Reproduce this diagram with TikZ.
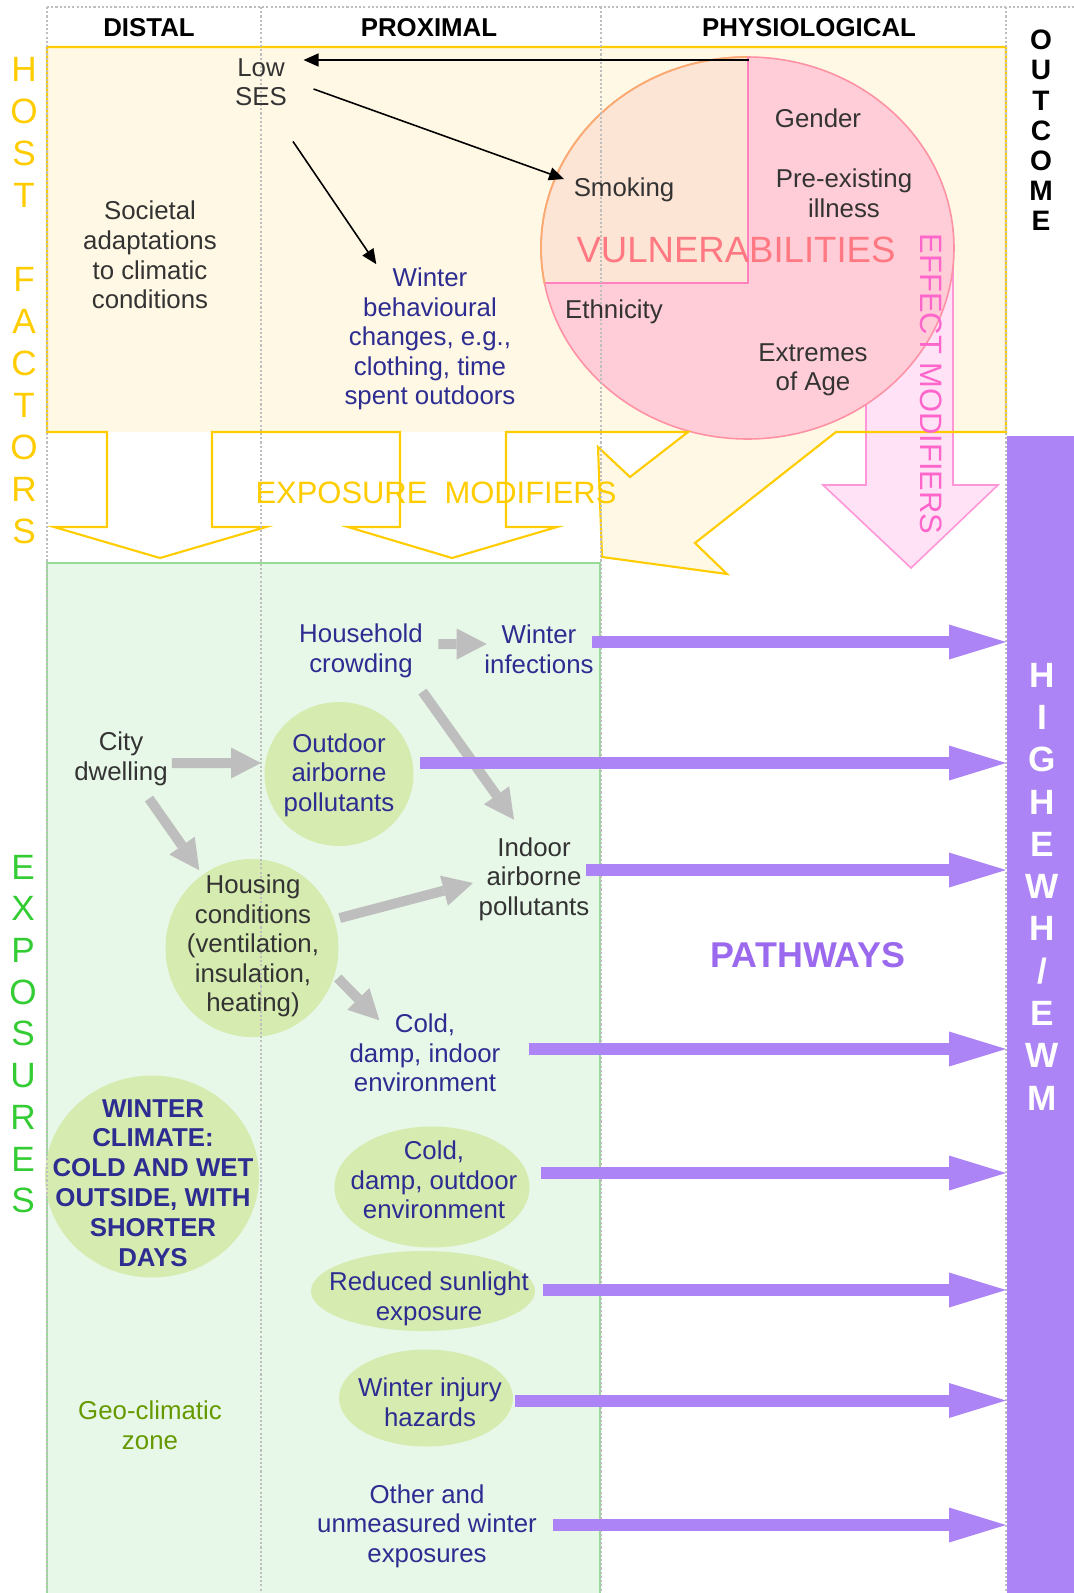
\documentclass[tikz,border=0pt]{standalone}
\usepackage{fontspec}
\setmainfont{Liberation Sans}
\usetikzlibrary{arrows.meta}

\definecolor{hostyellow}{RGB}{255,204,0}
\definecolor{hostcream}{RGB}{255,248,228}
\definecolor{expgreen}{RGB}{51,204,51}
\definecolor{expfill}{RGB}{232,248,232}
\definecolor{expline}{RGB}{150,220,150}
\definecolor{ovalgreen}{RGB}{214,235,176}
\definecolor{txtgrey}{RGB}{51,51,51}
\definecolor{txtblue}{RGB}{45,45,145}
\definecolor{geogreen}{RGB}{102,153,0}
\definecolor{vulpink}{RGB}{255,205,215}
\definecolor{vulpeach}{RGB}{253,229,214}
\definecolor{vulorange}{RGB}{250,172,110}
\definecolor{vulrim}{RGB}{255,145,165}
\definecolor{vulline}{RGB}{255,130,190}
\definecolor{vultext}{RGB}{255,120,130}
\definecolor{effill}{RGB}{255,226,246}
\definecolor{efline}{RGB}{255,150,215}
\definecolor{eftext}{RGB}{255,102,204}
\definecolor{pathpurple}{RGB}{172,132,245}
\definecolor{pathtext}{RGB}{155,105,238}
\definecolor{gridgrey}{RGB}{190,190,190}
\definecolor{arrowgrey}{RGB}{190,190,190}

\begin{document}
\begin{tikzpicture}[
    % Styles
    txt/.style={align=center, inner sep=0pt, text=txtgrey,
      font=\fontsize{7.35}{8.4}\selectfont},
    bluetxt/.style={txt, text=txtblue},
    header/.style={inner sep=0pt, font=\bfseries\fontsize{7.35}{8.4}\selectfont},
    hostletter/.style={inner sep=0pt, text=hostyellow, font=\fontsize{10}{12}\selectfont},
    expoletter/.style={hostletter, text=expgreen},
    outcletter/.style={inner sep=0pt, font=\bfseries\fontsize{8}{9.6}\selectfont},
    ewmletter/.style={inner sep=0pt, text=white, font=\bfseries\fontsize{10}{12}\selectfont},
    oval/.style={fill=ovalgreen},
    gridline/.style={draw=gridgrey, line width=0.3pt, dash pattern=on 0.6pt off 0.6pt},
    greyarrow/.style={draw=arrowgrey, line width=0.10cm,
      -{Triangle[length=0.30cm, width=0.31cm, line width=0pt]}},
    patharrow/.style={draw=pathpurple, line width=0.12cm,
      -{Triangle[length=0.57cm, width=0.35cm, line width=0pt]}},
    blkarrow/.style={draw=black, line width=0.45pt,
      -{Triangle[length=0.15cm, width=0.13cm]}},
  ]
  \useasboundingbox (0,0) rectangle (10.74,-15.93);

  % host factors box and exposure modifier arrows
  \fill[hostcream] (0.47,-0.47) rectangle (10.06,-4.32);
  \fill[hostcream] (8.36,-4.32) -- (6.95,-5.43) -- (7.27,-5.74) -- (6.02,-5.57)
    -- (5.98,-4.47) -- (6.30,-4.77) -- (6.88,-4.32) -- cycle;

  % exposures box
  \fill[expfill] (0.47,-5.63) rectangle (6.00,-15.93);
  \draw[expline, line width=0.45pt] (0.47,-15.93) -- (0.47,-5.63) -- (6.00,-5.63) -- (6.00,-15.93);

  % effect modifiers arrow
  \filldraw[fill=effill, draw=efline, line width=0.45pt] (8.66,-2.45) -- (9.53,-2.45) -- (9.53,-4.85)
    -- (9.98,-4.85) -- (9.11,-5.68) -- (8.23,-4.85) -- (8.66,-4.85) -- cycle;

  % vulnerabilities
  \fill[vulpink] (7.475,-2.48) ellipse (2.065 and 1.91);
  \begin{scope}
    \clip (7.475,-2.48) ellipse (2.065 and 1.91);
    \fill[vulpeach] (5.30,-0.50) rectangle (7.48,-2.83);
  \end{scope}
  \draw[vulrim, line width=0.45pt] (7.475,-2.48) ellipse (2.065 and 1.91);
  \begin{scope}
    \clip (5.30,-0.50) rectangle (7.48,-2.83);
    \draw[vulorange, line width=0.5pt] (7.475,-2.48) ellipse (2.065 and 1.91);
  \end{scope}
  \draw[vulline, line width=0.45pt] (7.48,-0.57) -- (7.48,-2.83) -- (5.445,-2.83);

  % host factors outline
  \draw[hostyellow, line width=0.6pt] (0.47,-0.47) -- (10.06,-0.47) -- (10.06,-4.32)
    -- (8.36,-4.32) -- (6.95,-5.43) -- (7.27,-5.74) -- (6.02,-5.57) -- (5.98,-4.47)
    -- (6.30,-4.77) -- (6.88,-4.32) -- (5.06,-4.32) -- (5.06,-5.27) -- (5.57,-5.27)
    -- (4.52,-5.58) -- (3.48,-5.27) -- (4.00,-5.27) -- (4.00,-4.32) -- (2.12,-4.32)
    -- (2.12,-5.27) -- (2.66,-5.27) -- (1.60,-5.58) -- (0.54,-5.27) -- (1.07,-5.27)
    -- (1.07,-4.32) -- (0.47,-4.32) -- cycle;

  % outcome bar
  \node[fill=pathpurple, inner sep=0pt, minimum width=0.68cm, minimum height=11.58cm,
    anchor=north west] (outbar) at (10.06,-4.35) {};

  % green ovals
  \fill[oval] (3.39,-7.74) ellipse (0.745 and 0.72);
  \fill[oval] (2.52,-9.48) ellipse (0.865 and 0.89);
  \fill[oval] (1.52,-11.765) ellipse (1.07 and 1.01);
  \fill[oval] (4.32,-11.87) ellipse (0.975 and 0.605);
  \fill[oval] (4.23,-12.91) ellipse (1.12 and 0.40);
  \fill[oval] (4.26,-13.98) ellipse (0.87 and 0.485);

  % grid
  \draw[gridline] (0.47,-0.07) -- (10.74,-0.07);
  \foreach \x in {0.47,2.61,6.01,10.06}
    \draw[gridline] (\x,-0.07) -- (\x,-15.93);

  % headers
  \node[header] (distal) at (1.49,-0.28) {DISTAL};
  \node[header] (proximal) at (4.29,-0.28) {PROXIMAL};
  \node[header] (physio) at (8.09,-0.28) {PHYSIOLOGICAL};

  % host factors
  \node[txt] (lowses) at (2.61,-0.82) {Low\\SES};
  \node[txt] (societal) at (1.50,-2.55) {Societal\\adaptations\\to climatic\\conditions};
  \node[bluetxt] (behaviour) at (4.30,-3.39) {Winter\\behavioural\\changes, e.g.,\\clothing, time\\spent outdoors};
  \node[txt] (smoking) at (6.24,-1.90) {Smoking};
  \node[txt] (gender) at (8.18,-1.18) {Gender};
  \node[txt] (preexist) at (8.44,-1.93) {Pre-existing\\illness};
  \node[txt] (ethnic) at (6.14,-3.12) {Ethnicity};
  \node[txt] (ageext) at (8.13,-3.70) {Extremes\\of Age};
  \node[inner sep=0pt, text=vultext, font=\fontsize{10.4}{12}\selectfont] (vuln) at (7.36,-2.50) {VULNERABILITIES};
  \node[rotate=-90, inner sep=0pt, text=eftext, font=\fontsize{8.8}{10}\selectfont] (effmod) at (9.31,-3.84) {EFFECT MODIFIERS};
  \node[inner sep=0pt, text=hostyellow, font=\fontsize{8.8}{10}\selectfont] (expmod) at (4.36,-4.93) {EXPOSURE\ \ MODIFIERS};

  % exposures
  \node[bluetxt] (crowding) at (3.61,-6.51) {Household\\crowding};
  \node[bluetxt] (infect) at (5.39,-6.49) {Winter\\infections};
  \node[txt] (city) at (1.21,-7.59) {City\\dwelling};
  \node[bluetxt] (outdoor) at (3.39,-7.75) {Outdoor\\airborne\\pollutants};
  \node[txt] (indoor) at (5.34,-8.79) {Indoor\\airborne\\pollutants};
  \node[txt] (housing) at (2.53,-9.46) {Housing\\conditions\\(ventilation,\\insulation,\\heating)};
  \node[bluetxt] (colddampin) at (4.25,-10.53) {Cold,\\damp, indoor\\environment};
  \node[bluetxt, font=\bfseries\fontsize{7.35}{8.5}\selectfont] (climate) at (1.53,-11.83) {WINTER\\CLIMATE:\\COLD AND WET\\OUTSIDE, WITH\\SHORTER\\DAYS};
  \node[bluetxt] (colddampout) at (4.34,-11.80) {Cold,\\damp, outdoor\\environment};
  \node[bluetxt] (sunlight) at (4.29,-12.99) {Reduced sunlight\\exposure};
  \node[bluetxt] (injury) at (4.30,-14.02) {Winter injury\\hazards};
  \node[txt, text=geogreen] (geozone) at (1.50,-14.25) {Geo-climatic\\zone};
  \node[bluetxt] (otherexp) at (4.27,-15.26) {Other and\\unmeasured winter\\exposures};
  \node[inner sep=0pt, text=pathtext, font=\bfseries\fontsize{10.2}{12}\selectfont] (pathways) at (8.08,-9.55) {PATHWAYS};

  % side letters
  \foreach \l [count=\i] in {H,O,S,T,{},F,A,C,T,O,R,S}
    \node[hostletter] (host\i) at (0.24,{-0.69-0.42*(\i-1)}) {\l};
  \foreach \l [count=\i] in {E,X,P,O,S,U,R,E,S}
    \node[expoletter] (expo\i) at (0.23,{-8.67-0.417*(\i-1)}) {\l};
  \foreach \l [count=\i] in {O,U,T,C,O,M,E}
    \node[outcletter] (outc\i) at (10.41,{-0.40-0.302*(\i-1)}) {\l};
  \foreach \l [count=\i] in {H,I,G,H,E,W,H,\slash,E,W,M}
    \node[ewmletter] (ewm\i) at (10.42,{-6.75-0.423*(\i-1)}) {\l};

  % black arrows
  \coordinate (quadtop) at (7.49,-0.60);
  \draw[blkarrow] (quadtop) -- ([xshift=0.16cm]lowses.east |- quadtop);
  \draw[blkarrow] ([shift={(0.26,-0.07)}]lowses.east) -- ([shift={(-0.09,0.11)}]smoking.west);
  \draw[blkarrow] ([shift={(0.32,-0.35)}]lowses.south) -- ([shift={(0.325,0.03)}]behaviour.north west);

  % grey arrows
  \draw[greyarrow] ([shift={(0.15,0.07)}]crowding.east) -- ([shift={(0.03,0.05)}]infect.west);
  \draw[greyarrow] ([shift={(-0.01,-0.13)}]crowding.south east) -- ([shift={(-0.20,0.17)}]indoor.north);
  \draw[greyarrow] ([shift={(0.035,-0.04)}]city.east) -- ([shift={(-0.22,0.12)}]outdoor.west);
  \draw[greyarrow] ([shift={(0.28,-0.12)}]city.south) -- ([shift={(0.13,0.04)}]housing.north west);
  \draw[greyarrow] ([shift={(0.20,0.28)}]housing.east) -- ([shift={(-0.05,-0.04)}]indoor.west);
  \draw[greyarrow] ([shift={(0.18,-0.32)}]housing.east) -- ([shift={(0.305,-0.07)}]colddampin.north west);

  % pathways
  \draw[patharrow] ([shift={(-0.02,0.07)}]infect.east) coordinate (p1) -- (p1 -| outbar.west);
  \draw[patharrow] ([shift={(0.25,0.12)}]outdoor.east) coordinate (p2) -- (p2 -| outbar.west);
  \draw[patharrow] ([shift={(-0.04,0.09)}]indoor.east) coordinate (p3) -- (p3 -| outbar.west);
  \draw[patharrow] ([shift={(0.275,0.04)}]colddampin.east) coordinate (p4) -- (p4 -| outbar.west);
  \draw[patharrow] ([shift={(0.23,0.07)}]colddampout.east) coordinate (p5) -- (p5 -| outbar.west);
  \draw[patharrow] ([shift={(0.13,0.09)}]sunlight.east) coordinate (p6) -- (p6 -| outbar.west);
  \draw[patharrow] ([shift={(0.125,0.015)}]injury.east) coordinate (p7) -- (p7 -| outbar.west);
  \draw[patharrow] ([shift={(0.155,0.01)}]otherexp.east) coordinate (p8) -- (p8 -| outbar.west);
\end{tikzpicture}
\end{document}
